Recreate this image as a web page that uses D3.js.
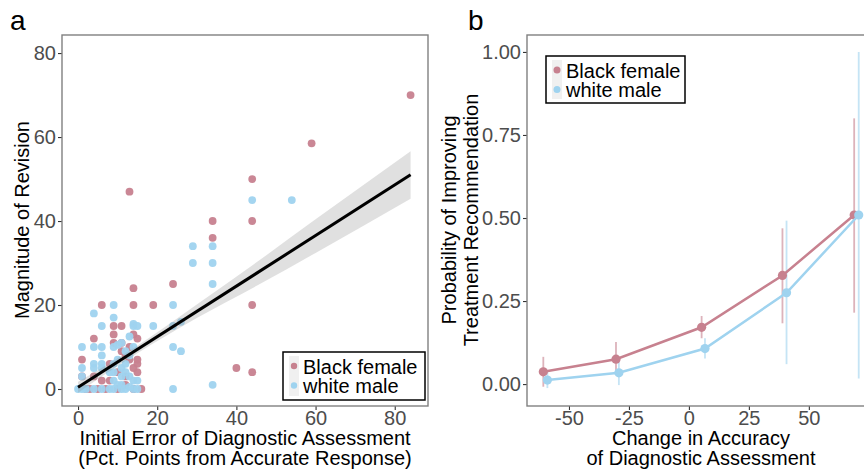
<!DOCTYPE html>
<html>
<head>
<meta charset="utf-8">
<script src="https://cdn.jsdelivr.net/npm/d3@7"></script>
<style>
  body { margin: 0; background: #fff; }
  svg { font-family: "Liberation Sans", Arial, sans-serif; }
</style>
</head>
<body>
<div class="chart"></div>
<script>
// ---- data ----

const groups = ["Black female", "white male"]
const colors = ["#c7818f", "#9fd3ef"]

// panel a : initial error vs magnitude of revision
const bfErr = [13, 34, 34, 24, 14, 6, 14, 19, 9, 11, 9, 14, 15, 4, 11, 11, 1, 8, 15, 15, 14, 4, 1, 8, 12, 13, 10,
  2, 3, 5, 7, 10, 14, 16, 12, 40, 44, 44, 44, 44, 59, 84, 12, 15, 13, 9, 6]
const bfRev = [47, 40, 36, 25, 24, 20, 20, 20, 15, 15, 13, 13, 12, 12, 11, 9, 7, 6, 6, 4, 5, 3, 3, 2, 3, 7, 4,
  0, 0, 0, 0, 0, 0, 0, 1, 5, 4, 20, 40, 50, 58.5, 70, 8, 7, 10, 11, 2]
const wmErr = [29, 34, 29, 34, 34, 9, 24, 4, 9, 6, 14, 14, 15, 19, 24, 26, 13, 1, 4, 6, 9, 10, 11, 14, 24, 26, 6,
  4, 4, 6, 6, 1, 1, 9, 9, 10, 11, 12, 13, 14, 12, 15, 0, 1, 2, 4, 6, 8, 9, 11, 12, 14, 15, 24, 34, 44, 54,
  11, 13, 9, 11, 12, 10, 8, 13]
const wmRev = [34, 34, 30, 30, 25, 20, 20, 18, 17, 15, 15.5, 15, 15, 15, 15, 16, 12.5, 10, 10, 10, 10, 10.5, 11, 10, 10, 9, 8,
  6, 5, 6, 5, 5, 3, 2, 6, 7, 5, 6, 3, 2, 4, 2, 0, 0, 0, 0, 0, 0, 0, 0, 0, 0, 0, 0, 1, 45, 45,
  3, 8, 4, 1, 9, 1, 4, 0.5]

// linear fit and its 95% band
const fitX = [0, 84]
const fitY = [0.4, 51]
const bandX = [0, 15, 30, 45, 60, 84]
const bandLo = [-0.9, 8.5, 16.9, 24.5, 32.4, 45.3]
const bandHi = [1.7, 10.3, 20.1, 30.1, 40.4, 56.6]

// panel b : predicted probabilities with intervals
const bfX = [-60.7, -30.4, 5.3, 39, 68.9]
const bfP = [0.037, 0.075, 0.171, 0.327, 0.509]
const bfLo = [-0.008, 0.042, 0.138, 0.183, 0.215]
const bfHi = [0.082, 0.127, 0.205, 0.469, 0.80]
const wmX = [-59, -29.2, 6.7, 40.7, 70.8]
const wmP = [0.012, 0.034, 0.107, 0.275, 0.509]
const wmLo = [-0.012, -0.003, 0.077, 0.06, 0.017]
const wmHi = [0.04, 0.072, 0.138, 0.492, 1.0]

const ticksA_x = [0, 20, 40, 60, 80]
const ticksA_y = [0, 20, 40, 60, 80]
const ticksB_x = [-50, -25, 0, 25, 50]
const ticksB_y = [0, 0.25, 0.5, 0.75, 1]

// ---- layout ----
const W = 864, H = 470

const svg = d3.select(".chart").append("svg")
    .attr("width", W)
    .attr("height", H)

const tickCol = "#4d4d4d"

function frame(g, x0, y0, x1, y1) {
    g.append("rect")
    .attr("x", x0).attr("y", y0)
    .attr("width", x1 - x0).attr("height", y1 - y0)
    .attr("fill", "none")
    .attr("stroke", "#808080")
    .attr("stroke-width", 1.4)
}

function styleAxis(sel) {
    sel.select(".domain").remove()
    sel.selectAll(".tick line").attr("stroke", "#333").attr("stroke-width", 1.1)
    sel.selectAll(".tick text").attr("fill", tickCol).style("font-size", "20px")
}

function legend(g, x, y, w, h, r) {
    g.append("rect")
    .attr("x", x).attr("y", y).attr("width", w).attr("height", h)
    .attr("fill", "#fff").attr("stroke", "#000").attr("stroke-width", 1.5)
    g.append("rect")
    .attr("x", x + 6).attr("y", y + 4).attr("width", 10).attr("height", h - 8)
    .attr("fill", "#f0f0f0")
    groups.forEach((name, i) => {
        g.append("circle")
        .attr("cx", x + 11).attr("cy", y + 14 + i * 19.5).attr("r", r)
        .attr("fill", colors[i])
        g.append("text")
        .attr("x", x + 20).attr("y", y + 21.5 + i * 19.5)
        .style("font-size", "20px")
        .text(name)
    })
}

// plain hyphen for negatives, like the original
const fmtInt = d => String(d)

// ---- panel a ----
const ax = d3.scaleLinear().domain([-4.05, 88.4]).range([62, 428])
const ay = d3.scaleLinear().domain([-4.05, 84.3]).range([406, 35])

const ga = svg.append("g")

ga.append("g")
    .attr("transform", "translate(0,406)")
    .call(d3.axisBottom(ax).tickValues(ticksA_x).tickSize(4).tickPadding(1).tickFormat(fmtInt))
    .call(styleAxis)

ga.append("g")
    .attr("transform", "translate(62,0)")
    .call(d3.axisLeft(ay).tickValues(ticksA_y).tickSize(4).tickPadding(2).tickFormat(fmtInt))
    .call(styleAxis)

const scatter = [
    {err: bfErr, rev: bfRev, col: colors[0]},
    {err: wmErr, rev: wmRev, col: colors[1]}
]
scatter.forEach(s => {
    ga.append("g").selectAll("circle")
    .data(s.err.map((e, i) => [e, s.rev[i]]))
    .join("circle")
    .attr("cx", d => ax(d[0]))
    .attr("cy", d => ay(d[1]))
    .attr("r", 3.9)
    .attr("fill", s.col)
    .attr("opacity", 0.95)
})

const bandData = bandX.map((x, i) => ({x: x, lo: bandLo[i], hi: bandHi[i]}))
ga.append("path")
    .datum(bandData)
    .attr("d", d3.area().x(d => ax(d.x)).y0(d => ay(d.lo)).y1(d => ay(d.hi)).curve(d3.curveMonotoneX))
    .attr("fill", "#999")
    .attr("opacity", 0.3)

ga.append("line")
    .attr("x1", ax(fitX[0])).attr("y1", ay(fitY[0]))
    .attr("x2", ax(fitX[1])).attr("y2", ay(fitY[1]))
    .attr("stroke", "#000")
    .attr("stroke-width", 3)

frame(ga, 62, 35, 428, 406)
legend(ga, 283, 352, 142, 48, 3.2)

ga.append("text")
    .attr("transform", "translate(29,220) rotate(-90)")
    .attr("text-anchor", "middle")
    .style("font-size", "20px")
    .text("Magnitude of Revision")

ga.append("text")
    .attr("x", 245).attr("y", 445)
    .attr("text-anchor", "middle")
    .style("font-size", "20px")
    .text("Initial Error of Diagnostic Assessment")
ga.append("text")
    .attr("x", 245).attr("y", 465)
    .attr("text-anchor", "middle")
    .style("font-size", "20px")
    .text("(Pct. Points from Accurate Response)")

svg.append("text")
    .attr("x", 10).attr("y", 30)
    .style("font-size", "28px")
    .text("a")

// ---- panel b ----
const bx = d3.scaleLinear().domain([-67.5, 78]).range([527, 876])
const by = d3.scaleLinear().domain([-0.066, 1.051]).range([406, 35])

const gb = svg.append("g")

gb.append("g")
    .attr("transform", "translate(0,406)")
    .call(d3.axisBottom(bx).tickValues(ticksB_x).tickSize(4).tickPadding(1).tickFormat(fmtInt))
    .call(styleAxis)

gb.append("g")
    .attr("transform", "translate(527,0)")
    .call(d3.axisLeft(by).tickValues(ticksB_y).tickSize(4).tickPadding(2).tickFormat(d3.format(".2f")))
    .call(styleAxis)

const series = [
    {x: bfX, p: bfP, lo: bfLo, hi: bfHi, col: colors[0]},
    {x: wmX, p: wmP, lo: wmLo, hi: wmHi, col: colors[1]}
]
series.forEach(s => {
    const pts = s.x.map((x, i) => ({x: x, p: s.p[i], lo: s.lo[i], hi: s.hi[i]}))
    gb.append("g").selectAll("line")
    .data(pts)
    .join("line")
    .attr("x1", d => bx(d.x)).attr("x2", d => bx(d.x))
    .attr("y1", d => by(d.lo)).attr("y2", d => by(d.hi))
    .attr("stroke", s.col)
    .attr("stroke-width", 1.8)
    .attr("opacity", 0.6)
})
series.forEach(s => {
    const pts = s.x.map((x, i) => ({x: x, p: s.p[i]}))
    gb.append("path")
    .datum(pts)
    .attr("d", d3.line().x(d => bx(d.x)).y(d => by(d.p)))
    .attr("fill", "none")
    .attr("stroke", s.col)
    .attr("stroke-width", 2.5)
    gb.append("g").selectAll("circle")
    .data(pts)
    .join("circle")
    .attr("cx", d => bx(d.x))
    .attr("cy", d => by(d.p))
    .attr("r", 4.6)
    .attr("fill", s.col)
})

frame(gb, 527, 35, 876, 406)
legend(gb, 546, 56, 139, 47, 3.5)

gb.append("text")
    .attr("transform", "translate(456,220) rotate(-90)")
    .attr("text-anchor", "middle")
    .style("font-size", "20px")
    .text("Probability of Improving")
gb.append("text")
    .attr("transform", "translate(478,220) rotate(-90)")
    .attr("text-anchor", "middle")
    .style("font-size", "20px")
    .text("Treatment Recommendation")

gb.append("text")
    .attr("x", 701).attr("y", 445)
    .attr("text-anchor", "middle")
    .style("font-size", "20px")
    .text("Change in Accuracy")
gb.append("text")
    .attr("x", 701).attr("y", 465)
    .attr("text-anchor", "middle")
    .style("font-size", "20px")
    .text("of Diagnostic Assessment")

svg.append("text")
    .attr("x", 468).attr("y", 30)
    .style("font-size", "28px")
    .text("b")
</script>
</body>
</html>
